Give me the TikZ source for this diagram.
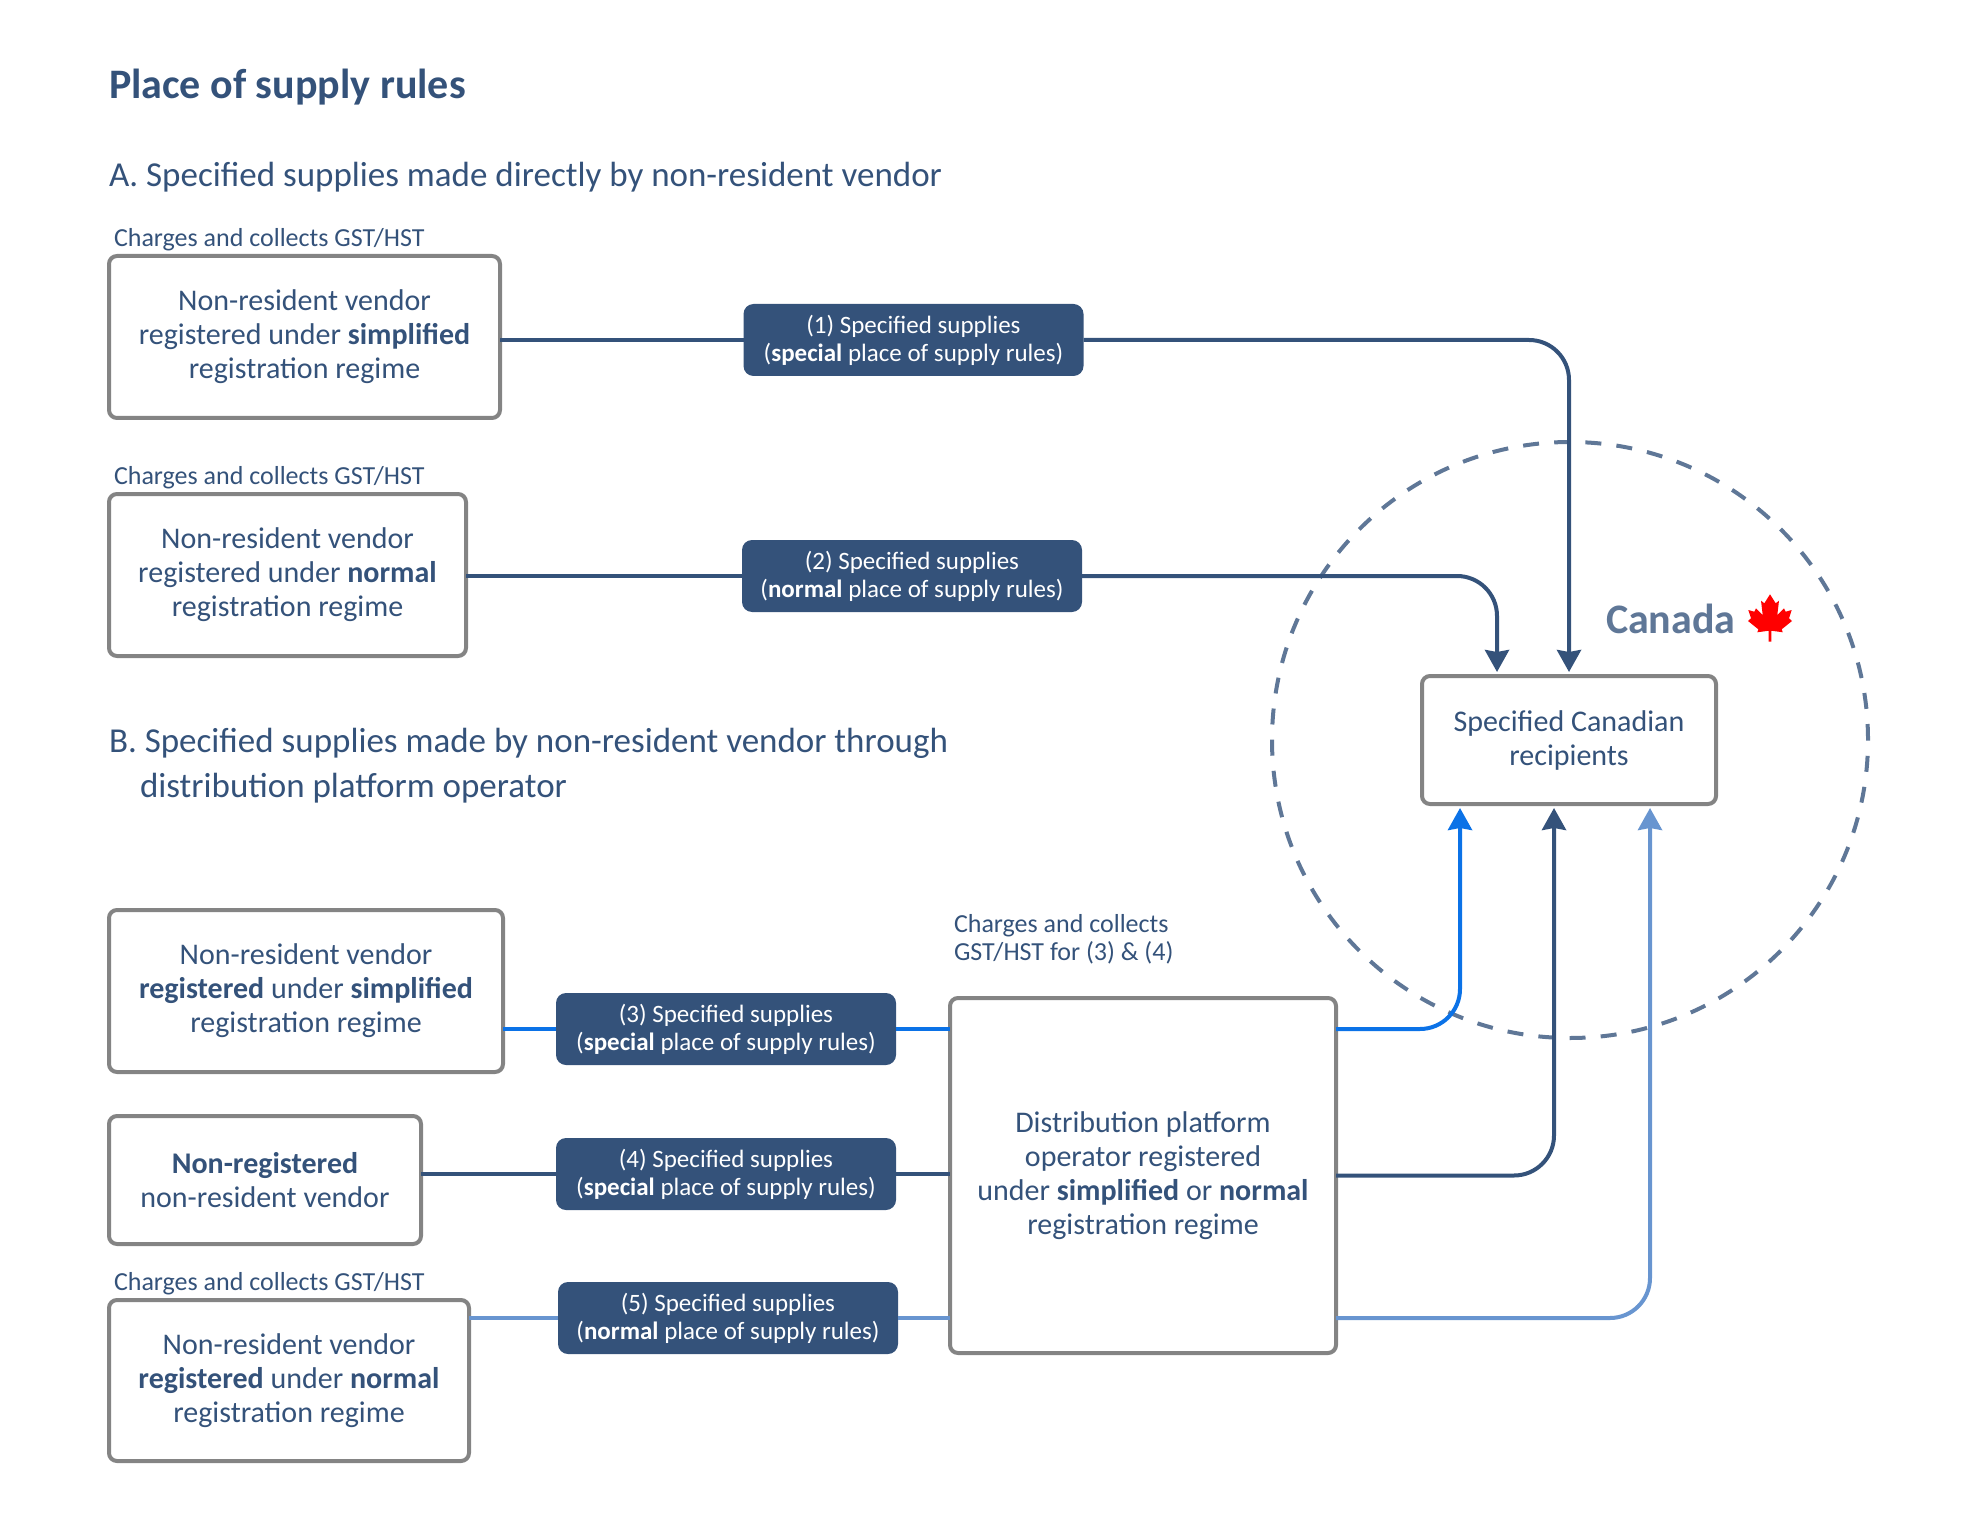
\documentclass[tikz,border=0pt]{standalone}
\usepackage{fontspec}
\setmainfont{Carlito}
\usetikzlibrary{arrows.meta}
\definecolor{ink}{HTML}{34527A}
\definecolor{edge}{HTML}{848484}
\definecolor{ring}{HTML}{5F7797}
\definecolor{brightblue}{HTML}{0B72E7}
\definecolor{softblue}{HTML}{6895D0}
\tikzset{
  x=0.5pt,y=-0.5pt,
  pbox/.style={draw=edge,line width=2pt,rounded corners=4pt,fill=white,inner sep=0pt,outer sep=0pt,align=center,text=ink,font=\fontsize{15}{17}\selectfont},
  pill/.style={fill=ink,rounded corners=5pt,inner sep=0pt,outer sep=0pt,align=center,text=white,minimum width=170pt,minimum height=36pt,font=\fontsize{12.5}{14}\selectfont},
  note/.style={inner sep=0pt,outer sep=0pt,anchor=base west,text=ink,align=left,font=\fontsize{13}{14}\selectfont},
  head/.style={inner sep=0pt,outer sep=0pt,anchor=base west,text=ink,align=left,font=\fontsize{17.5}{22.3}\selectfont},
  link/.style={line width=2pt,draw=ink},
  tipped/.style={line width=2pt,rounded corners=20pt,-{Stealth[length=11pt,width=12pt,inset=1pt]},shorten >=2pt},
}
\begin{document}
\begin{tikzpicture}
\useasboundingbox (0,0) rectangle (1970,1524);
\node[head,font=\fontsize{21}{24}\selectfont\bfseries] (title) at (109,99) {Place of supply rules};
\node[head] (secA) at (109,187) {A. Specified supplies made directly by non-resident vendor};
\node[head] (secB) at (109,797) {B. Specified supplies made by non-resident vendor through\\\hspace*{15.5pt}distribution platform operator};
\node[note] (n1) at (114,246.5) {Charges and collects GST/HST};
\node[note] (n2) at (114,484.5) {Charges and collects GST/HST};
\node[note] (n3) at (114,1290) {Charges and collects GST/HST};
\node[note] (n4) at (954,960) {Charges and collects\\GST/HST for (3) \& (4)};
\node[circle,draw=ring,line width=2pt,dash pattern=on 8pt off 7.6pt,minimum size=298pt,inner sep=0pt,outer sep=0pt] (canadaring) at (1570,740) {};
\node[head,font=\fontsize{21}{24}\selectfont\bfseries,text=ring] (canada) at (1606,633) {Canada};
\fill[red] (1770,594.3) -- (1775.7,603.3) -- (1779,600.7) -- (1777.3,615) -- (1784,608.3) -- (1785.7,611.7) -- (1791.7,610) -- (1789,618.3) -- (1792,621) -- (1781.7,629.3) -- (1782.7,632.3) -- (1771.3,630.7) -- (1771.3,641.7) -- (1768.7,641.7) -- (1768.7,630.7) -- (1757.3,632.3) -- (1758.3,629.3) -- (1748,621) -- (1751,618.3) -- (1748.3,610) -- (1754.3,611.7) -- (1756,608.3) -- (1762.7,615) -- (1761,600.7) -- (1764.3,603.3) -- cycle;
\node[pill] (p1) at (913.5,340) {(1) Specified supplies\\(\textbf{special} place of supply rules)};
\node[pill] (p2) at (912,576) {(2) Specified supplies\\(\textbf{normal} place of supply rules)};
\node[pill] (p3) at (726,1029) {(3) Specified supplies\\(\textbf{special} place of supply rules)};
\node[pill] (p4) at (726,1174) {(4) Specified supplies\\(\textbf{special} place of supply rules)};
\node[pill] (p5) at (728,1318) {(5) Specified supplies\\(\textbf{normal} place of supply rules)};
\node[pbox,minimum width=195.5pt,minimum height=81pt] (b1) at (304.5,337) {Non-resident vendor\\registered under \textbf{simplified}\\registration regime};
\node[pbox,minimum width=178.5pt,minimum height=81pt] (b2) at (287.5,575) {Non-resident vendor\\registered under \textbf{normal}\\registration regime};
\node[pbox,minimum width=197pt,minimum height=81pt] (b3) at (306,991) {Non-resident vendor\\\textbf{registered} under \textbf{simplified}\\registration regime};
\node[pbox,minimum width=156pt,minimum height=64pt] (b4) at (265,1180) {\textbf{Non-registered}\\non-resident vendor};
\node[pbox,minimum width=180pt,minimum height=80.5pt] (b5) at (289,1380.5) {Non-resident vendor\\\textbf{registered} under \textbf{normal}\\registration regime};
\node[pbox,minimum width=193pt,minimum height=177.5pt] (plat) at (1143,1175.5) {Distribution platform\\operator registered\\under \textbf{simplified} or \textbf{normal}\\registration regime};
\node[pbox,minimum width=147pt,minimum height=64pt] (recip) at (1569,740) {Specified Canadian\\recipients};
\draw[link] (p1.west -| b1.east) -- (p1.west);
\draw[link] (p2.west -| b2.east) -- (p2.west);
\draw[link,draw=brightblue] (p3.west -| b3.east) -- (p3.west);
\draw[link,draw=brightblue] (p3.east) -- (p3.east -| plat.west);
\draw[link] (p4.west -| b4.east) -- (p4.west);
\draw[link] (p4.east) -- (p4.east -| plat.west);
\draw[link,draw=softblue] (p5.west -| b5.east) -- (p5.west);
\draw[link,draw=softblue] (p5.east) -- (p5.east -| plat.west);
\draw[tipped,draw=ink,fill=none] (p1.east) -| (recip.north);
\draw[tipped,draw=ink] (p2.east) -| ([xshift=-36pt]recip.north);
\draw[tipped,draw=brightblue] (p3.east -| plat.east) -| ([xshift=-54.5pt]recip.south);
\draw[tipped,draw=ink] (plat.east) -| ([xshift=-7.5pt]recip.south);
\draw[tipped,draw=softblue] (p5.east -| plat.east) -| ([xshift=40.5pt]recip.south);
\end{tikzpicture}
\end{document}
